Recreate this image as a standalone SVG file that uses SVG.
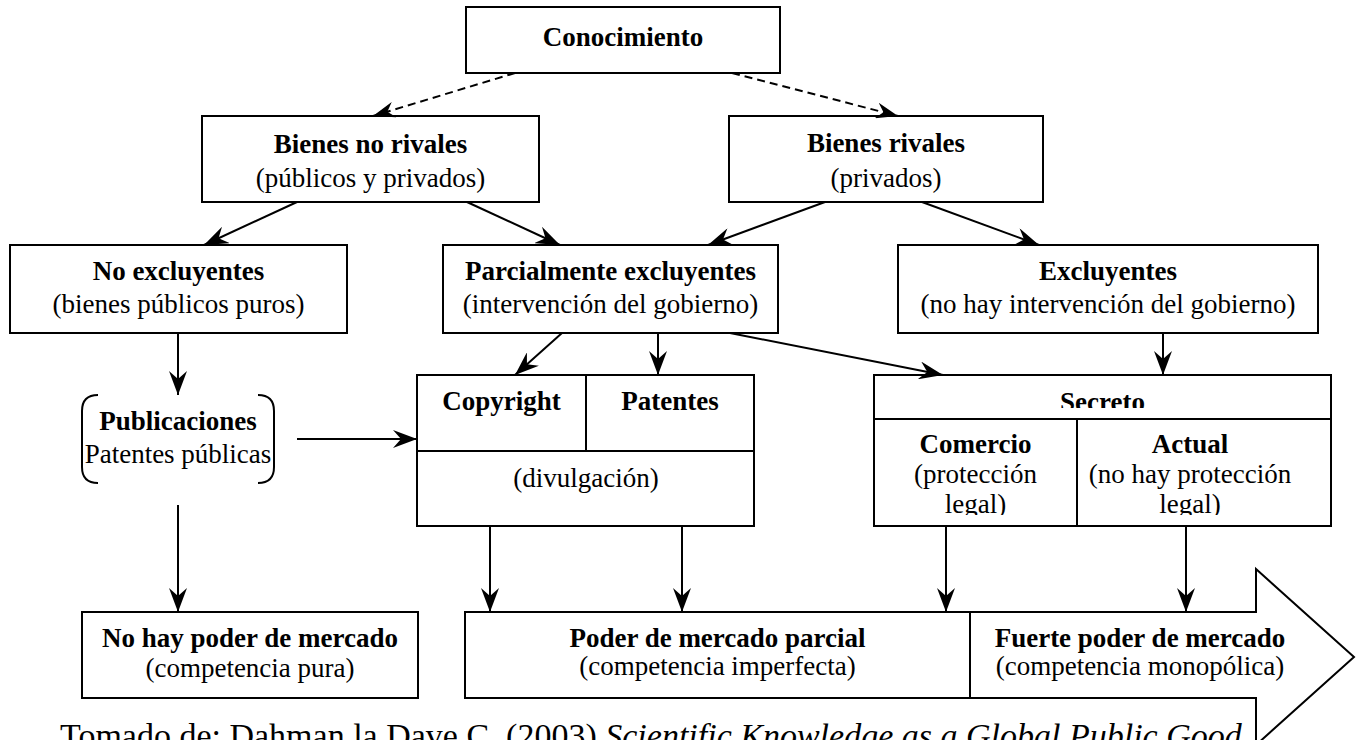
<svg xmlns="http://www.w3.org/2000/svg" width="1356" height="740" viewBox="0 0 1356 740">
<style>
.box{fill:#fff;stroke:#000;stroke-width:2}
.ln{fill:none;stroke:#000;stroke-width:2}
.dash{stroke-dasharray:8 5}
text{font-family:"Liberation Serif","Times New Roman",serif;font-size:27px;fill:#000;text-anchor:middle}
.b{font-weight:bold}
.cap{font-size:34px;text-anchor:start}
</style>
<defs>
<marker id="ah" markerUnits="userSpaceOnUse" markerWidth="24" markerHeight="18" viewBox="0 0 24 18" refX="24" refY="9" orient="auto"><path d="M0,0 L24,9 L0,18 L8,9 Z" fill="#000"/></marker>
<marker id="ahd" markerUnits="userSpaceOnUse" markerWidth="22" markerHeight="16" viewBox="0 0 22 16" refX="22" refY="8" orient="auto"><path d="M0,0 L22,8 L0,16 L7,8 Z" fill="#000"/></marker>
<clipPath id="secClip"><rect x="874" y="375" width="457" height="33"/></clipPath>
<clipPath id="cellClip"><rect x="874" y="419" width="457" height="96"/></clipPath>
</defs>
<rect width="1356" height="740" fill="#fff"/>

<text class="cap" x="60" y="747">Tomado de: Dahman la Dave C. (2003) <tspan font-style="italic">Scientific Knowledge as a Global Public Good</tspan></text>

<g id="conocimiento">
<rect class="box" x="466" y="7" width="314" height="66"/>
<text class="b" x="623" y="46">Conocimiento</text>
</g>
<g id="bienes-no-rivales">
<rect class="box" x="202" y="116" width="337" height="86"/>
<text class="b" x="370.5" y="153">Bienes no rivales</text>
<text x="370.5" y="187">(públicos y privados)</text>
</g>
<g id="bienes-rivales">
<rect class="box" x="729" y="116" width="314" height="86"/>
<text class="b" x="886" y="152">Bienes rivales</text>
<text x="886" y="187">(privados)</text>
</g>
<g id="no-excluyentes">
<rect class="box" x="10" y="245" width="337" height="88"/>
<text class="b" x="178.5" y="280">No excluyentes</text>
<text x="178.5" y="313">(bienes públicos puros)</text>
</g>
<g id="parcialmente">
<rect class="box" x="443" y="245" width="335" height="88"/>
<text class="b" x="610.5" y="280">Parcialmente excluyentes</text>
<text x="610.5" y="313">(intervención del gobierno)</text>
</g>
<g id="excluyentes">
<rect class="box" x="898" y="245" width="420" height="88"/>
<text class="b" x="1108" y="280">Excluyentes</text>
<text x="1108" y="313">(no hay intervención del gobierno)</text>
</g>
<g id="publicaciones">
<path class="ln" d="M98,395 Q82,395 82,411 L82,467 Q82,483 98,483"/>
<path class="ln" d="M258,395 Q274,395 274,411 L274,467 Q274,483 258,483"/>
<text class="b" x="178" y="430">Publicaciones</text>
<text x="178" y="463">Patentes públicas</text>
</g>
<g id="copyright-patentes">
<rect class="box" x="417" y="375" width="337" height="151"/>
<line class="ln" x1="417" y1="451" x2="754" y2="451"/>
<line class="ln" x1="586" y1="375" x2="586" y2="451"/>
<text class="b" x="501.5" y="410">Copyright</text>
<text class="b" x="670" y="410">Patentes</text>
<text x="586" y="487">(divulgación)</text>
</g>
<g id="secreto">
<rect class="box" x="874" y="375" width="457" height="151"/>
<line class="ln" x1="874" y1="419" x2="1331" y2="419"/>
<line class="ln" x1="1077" y1="419" x2="1077" y2="526"/>
<text class="b" x="1102.5" y="411" clip-path="url(#secClip)">Secreto</text>
<g clip-path="url(#cellClip)">
<text class="b" x="975.5" y="453">Comercio</text>
<text x="975.5" y="483">(protección</text>
<text x="975.5" y="513">legal)</text>
<text class="b" x="1190" y="453">Actual</text>
<text x="1190" y="483">(no hay protección</text>
<text x="1190" y="513">legal)</text>
</g>
</g>
<g id="no-hay-poder">
<rect class="box" x="82" y="612" width="336" height="86"/>
<text class="b" x="250" y="647">No hay poder de mercado</text>
<text x="250" y="677">(competencia pura)</text>
</g>
<g id="poder-mercado">
<path class="box" d="M465,612 H1256 V569 L1354,657 L1256,745 V698 H465 Z"/>
<line class="ln" x1="970" y1="612" x2="970" y2="698"/>
<text class="b" x="717.5" y="647">Poder de mercado parcial</text>
<text x="717.5" y="675">(competencia imperfecta)</text>
<text class="b" x="1140" y="647">Fuerte poder de mercado</text>
<text x="1140" y="675">(competencia monopólica)</text>
</g>

<g id="connectors">
<line class="ln dash" x1="515" y1="73" x2="373" y2="116" marker-end="url(#ahd)"/>
<line class="ln dash" x1="732" y1="73" x2="898" y2="116" marker-end="url(#ahd)"/>
<line class="ln" x1="297" y1="202" x2="204" y2="245" marker-end="url(#ah)"/>
<line class="ln" x1="467" y1="202" x2="560" y2="245" marker-end="url(#ah)"/>
<line class="ln" x1="825" y1="202" x2="708" y2="245" marker-end="url(#ah)"/>
<line class="ln" x1="922" y1="202" x2="1039" y2="245" marker-end="url(#ah)"/>
<line class="ln" x1="178" y1="333" x2="178" y2="395" marker-end="url(#ah)"/>
<line class="ln" x1="562" y1="333" x2="515" y2="375" marker-end="url(#ah)"/>
<line class="ln" x1="658" y1="333" x2="658" y2="375" marker-end="url(#ah)"/>
<line class="ln" x1="730" y1="333" x2="943" y2="375" marker-end="url(#ah)"/>
<line class="ln" x1="1163" y1="333" x2="1163" y2="375" marker-end="url(#ah)"/>
<line class="ln" x1="297" y1="439" x2="417" y2="439" marker-end="url(#ah)"/>
<line class="ln" x1="178" y1="505" x2="178" y2="612" marker-end="url(#ah)"/>
<line class="ln" x1="490" y1="526" x2="490" y2="612" marker-end="url(#ah)"/>
<line class="ln" x1="682" y1="526" x2="682" y2="612" marker-end="url(#ah)"/>
<line class="ln" x1="946" y1="526" x2="946" y2="612" marker-end="url(#ah)"/>
<line class="ln" x1="1186" y1="526" x2="1186" y2="612" marker-end="url(#ah)"/>
</g>
</svg>
